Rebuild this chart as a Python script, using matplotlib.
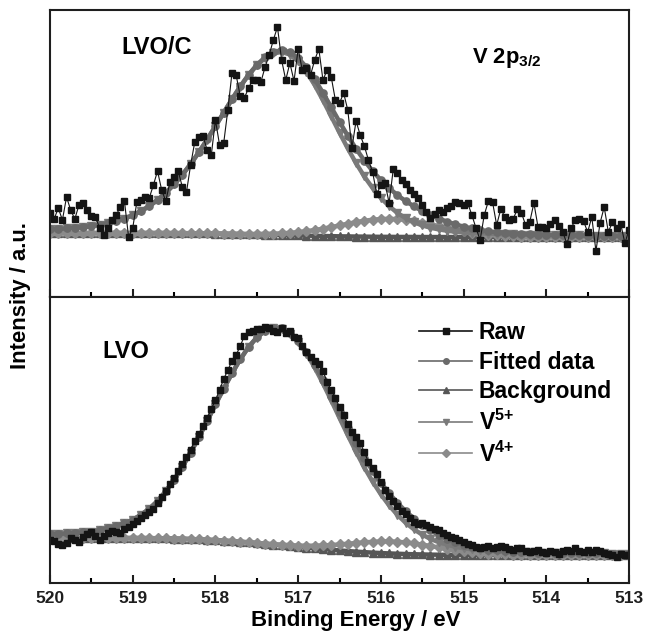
import numpy as np
import matplotlib.pyplot as plt
import matplotlib.ticker as ticker
from matplotlib.lines import Line2D

plt.rcParams['font.family'] = ['Liberation Sans', 'DejaVu Sans']
plt.rcParams['font.weight'] = 'bold'
plt.rcParams['mathtext.fontset'] = 'custom'
plt.rcParams['mathtext.rm'] = 'Liberation Sans:bold'
plt.rcParams['mathtext.it'] = 'Liberation Sans:bold'
plt.rcParams['mathtext.bf'] = 'Liberation Sans:bold'

# binding energy grids (eV): raw scan step 0.05, fit curves step 0.1
energy_raw = np.linspace(520, 513, 141)
energy_fit = np.linspace(520, 513, 71)

# ---- LVO/C ----
raw_lvoc = [27, 21, 32, 20, 43, 30, 21, 35, 37, 30,
            24, 23, 12, 5, 12, 20, 25, 33, 39, 3,
            12, 38, 40, 43, 42, 55, 69, 50, 39, 58,
            63, 69, 53, 48, 75, 98, 103, 104, 90, 85,
            120, 95, 97, 130, 167, 165, 144, 142, 152, 160,
            160, 158, 173, 185, 200, 213, 180, 160, 177, 159,
            191, 170, 172, 165, 180, 191, 160, 170, 163, 140,
            137, 147, 130, 92, 119, 105, 94, 80, 68, 46,
            55, 57, 37, 71, 67, 60, 56, 50, 46, 42,
            35, 28, 22, 26, 30, 28, 32, 34, 38, 37,
            35, 37, 25, 12, 0, 25, 39, 38, 15, 31,
            23, 20, 21, 31, 27, 15, 18, 37, 13, 13,
            12, 16, 20, 14, 8, -4, 12, 20, 21, 19,
            8, 23, -11, 17, 33, 8, 18, 12, 16, -3,
            10]
fit_lvoc = [10.8, 11.2, 11.6, 12.2, 12.9, 13.9, 15.2, 16.8, 18.8, 21.5,
            24.8, 28.9, 33.9, 40.0, 47.2, 55.6, 65.2, 76.0, 87.8, 100.6,
            113.9, 127.4, 140.8, 153.6, 165.2, 175.1, 182.8, 187.8, 189.7, 187.9,
            182.1, 172.8, 160.8, 147.2, 132.8, 118.2, 104.3, 91.3, 79.5, 69.0,
            59.9, 51.9, 44.9, 38.9, 33.7, 29.0, 25.0, 21.5, 18.4, 15.7,
            13.4, 11.6, 10.0, 8.7, 7.8, 7.0, 6.4, 6.0, 5.6, 5.4,
            5.1, 5.0, 4.8, 4.7, 4.6, 4.5, 4.5, 4.4, 4.3, 4.3,
            4.2]
bg_lvoc = [7.0] * 15 + [6.9, 6.9, 6.8, 6.7, 6.6, 6.5, 6.3, 6.2, 6.0, 5.8,
                        5.6, 5.4, 5.2, 5.0, 4.8, 4.6, 4.4, 4.2, 4.0, 3.9,
                        3.7, 3.6, 3.5, 3.4, 3.3, 3.2, 3.2, 3.1, 3.1, 3.1] + [3.0] * 26
v5_lvoc = [10.8, 11.2, 11.6, 12.2, 12.9, 13.9, 15.2, 16.8, 18.8, 21.5,
           24.8, 28.9, 33.9, 40.0, 47.2, 55.6, 65.2, 76.0, 87.8, 100.5,
           113.8, 127.3, 140.7, 153.4, 164.9, 174.6, 182.0, 186.6, 188.0, 185.5,
           178.8, 168.3, 155.0, 139.8, 123.7, 107.3, 91.6, 76.9, 63.6, 52.0,
           42.1, 33.9, 27.1, 21.9, 17.8, 14.6, 12.3, 10.6, 9.3, 8.3,
           7.6, 7.1, 6.7, 6.3, 6.1, 5.8, 5.6, 5.5, 5.3, 5.2,
           5.0, 4.9, 4.8, 4.7, 4.6, 4.5, 4.5, 4.4, 4.3, 4.3,
           4.2]
v4_lvoc = [7.0] * 15 + [6.9, 6.9, 6.8, 6.7, 6.7, 6.6, 6.4, 6.3, 6.2, 6.1,
                        6.1, 6.2, 6.4, 6.7, 7.2, 7.9, 8.9, 10.0, 11.4, 13.0,
                        14.6, 16.3, 17.9, 19.3, 20.3, 21.0, 21.2, 20.9, 20.1, 19.0,
                        17.4, 15.7, 13.9, 12.1, 10.4, 8.8, 7.5, 6.3, 5.4, 4.7,
                        4.2, 3.8, 3.5, 3.3, 3.2, 3.1, 3.1] + [3.0] * 9

# ---- LVO ----
raw_lvo = [20, 19, 16, 15, 17, 22, 20, 18, 23, 26,
           28, 24, 20, 24, 27, 29, 28, 27, 31, 33,
           36, 39, 42, 45, 48, 51, 57, 63, 69, 76,
           82, 89, 96, 103, 110, 119, 126, 134, 142, 151,
           160, 170, 181, 190, 199, 205, 214, 224, 228, 229,
           231, 231, 233, 232, 229, 228, 232, 227, 229, 223,
           222, 214, 208, 203, 199, 196, 189, 178, 170, 162,
           153, 145, 136, 128, 123, 117, 108, 98, 92, 86,
           78, 70, 64, 59, 54, 49, 46, 42, 38, 36,
           37, 35, 33, 31, 30, 27, 25, 23, 22, 20,
           18, 16, 15, 13, 12, 13, 14, 12, 13, 14,
           13, 11, 10, 12, 12, 9, 8, 9, 10, 8,
           7, 9, 8, 6, 9, 10, 9, 12, 9, 8,
           10, 8, 10, 9, 7, 6, 5, 3, 6, 5,
           5]
fit_lvo = [25.6, 26.1, 26.6, 27.0, 27.7, 28.5, 30.0, 31.8, 34.0, 36.8,
           40.2, 45.2, 51.2, 59.0, 68.8, 80.2, 93.2, 107.4, 122.8, 139.0,
           155.6, 171.4, 186.7, 200.7, 212.9, 222.6, 229.3, 232.4, 231.9, 227.4,
           219.4, 208.4, 195.2, 180.2, 164.3, 148.1, 132.1, 116.8, 102.4, 89.2,
           77.3, 66.6, 57.2, 48.8, 41.5, 35.2, 29.7, 25.1, 21.3, 18.0,
           15.3, 13.4, 11.8, 10.5, 9.7, 9.0, 8.5, 8.0, 7.7, 7.4,
           7.3, 7.2, 7.1, 6.9, 6.8, 6.8, 6.7, 6.6, 6.5, 6.4,
           6.4]
bg_lvo = [22.0] * 12 + [21.9, 21.8, 21.7, 21.5, 21.3, 21.0, 20.7, 20.3, 19.9, 19.4,
                        18.9, 18.3, 17.7, 17.0, 16.3, 15.5, 14.8, 14.0, 13.2, 12.4,
                        11.7, 11.0, 10.3, 9.6, 9.0, 8.4, 7.9, 7.4, 7.0, 6.6,
                        6.3, 6.0, 5.8, 5.6, 5.4, 5.3, 5.2, 5.1] + [5.0] * 21
v5_lvo = [25.6, 26.1, 26.6, 27.0, 27.7, 28.5, 30.0, 31.8, 34.0, 36.8,
          40.2, 45.2, 51.2, 59.0, 68.8, 80.2, 93.2, 107.4, 122.8, 139.0,
          155.6, 171.4, 186.7, 200.7, 212.9, 222.5, 229.1, 232.0, 231.3, 226.5,
          218.1, 206.5, 192.5, 176.6, 159.6, 142.1, 124.8, 108.2, 92.6, 78.4,
          65.7, 54.6, 45.2, 37.2, 30.7, 25.4, 21.1, 17.8, 15.3, 13.3,
          11.7, 10.7, 9.9, 9.2, 8.8, 8.4, 8.1, 7.8, 7.6, 7.4,
          7.3, 7.2, 7.1, 6.9, 6.8, 6.8, 6.7, 6.6, 6.5, 6.4,
          6.4]
v4_lvo = [22.0] * 12 + [21.9, 21.8, 21.7, 21.5, 21.3, 21.0, 20.7, 20.3, 19.9, 19.4,
                        18.9, 18.3, 17.7, 17.1, 16.5, 15.9, 15.4, 14.9, 14.5, 14.3,
                        14.4, 14.6, 15.0, 15.6, 16.3, 17.0, 17.7, 18.2, 18.6, 18.6,
                        18.3, 17.6, 16.6, 15.4, 14.0, 12.6, 11.2, 9.8, 8.6, 7.7,
                        6.9, 6.3, 5.9, 5.6, 5.4, 5.2, 5.1] + [5.0] * 12

labels = ['Raw', 'Fitted data', 'Background', 'V$^{5{+}}$', 'V$^{4{+}}$']
colors = ['#141414', '#6a6a6a', '#565656', '#7a7a7a', '#8b8b8b']
markers = ['s', 'o', '^', 'v', 'D']


def draw_panel(ax, raw, fit, bg, v5, v4):
    comps = [(bg, 2), (v4, 4), (v5, 3), (fit, 1)]
    for vals, i in comps:
        ax.plot(energy_fit, vals, color=colors[i], lw=3.2, marker=markers[i],
                ms=4.6 if markers[i] == 'D' else 5.2, mec=colors[i], mfc=colors[i],
                solid_capstyle='round')
    ax.plot(energy_raw, raw, color=colors[0], lw=0.8, marker='s', ms=4.2,
            mec=colors[0], mfc=colors[0])
    ax.set_yticks([])
    for s in ax.spines.values():
        s.set_linewidth(1.5)
        s.set_color('#1e1e1e')


fig = plt.figure(figsize=(6.46, 6.34), dpi=100)
ax_top = fig.add_axes([0.0774, 0.5315, 0.8963, 0.4527])
ax_bot = fig.add_axes([0.0774, 0.0804, 0.8963, 0.4511], sharex=ax_top)

draw_panel(ax_top, raw_lvoc, fit_lvoc, bg_lvoc, v5_lvoc, v4_lvoc)
draw_panel(ax_bot, raw_lvo, fit_lvo, bg_lvo, v5_lvo, v4_lvo)

ax_top.set_ylim(-57, 230)
ax_bot.set_ylim(-23, 263)
ax_bot.set_xlim(520, 513)
ax_bot.xaxis.set_major_locator(ticker.MultipleLocator(1))
ax_bot.xaxis.set_minor_locator(ticker.MultipleLocator(0.5))
ax_bot.xaxis.set_major_formatter(ticker.FuncFormatter(lambda v, _: f'{int(round(v))}'))

for ax in (ax_top, ax_bot):
    ax.tick_params(axis='x', which='major', direction='in', length=6, width=1.5,
                   bottom=True, top=False, labelsize=12.5, pad=6, colors='#1e1e1e')
    ax.tick_params(axis='x', which='minor', direction='in', length=3.5, width=1.5,
                   bottom=True, top=False)
ax_top.tick_params(axis='x', labelbottom=False)

ax_bot.set_xlabel('Binding Energy / eV', fontsize=16, fontweight='bold', labelpad=2)
ax_bot.xaxis.set_label_coords(0.528, -0.095)
fig.text(0.031, 0.534, 'Intensity / a.u.', rotation=90, ha='center', va='center',
         fontsize=15.8, fontweight='bold')

ax_top.text(0.124, 0.868, 'LVO/C', transform=ax_top.transAxes, fontsize=17,
            fontweight='bold', ha='left', va='center')
ax_top.text(0.729, 0.832, 'V 2p$_{3/2}$', transform=ax_top.transAxes, fontsize=15.8,
            fontweight='bold', ha='left', va='center')
ax_bot.text(0.09, 0.808, 'LVO', transform=ax_bot.transAxes, fontsize=17,
            fontweight='bold', ha='left', va='center')

handles = [Line2D([], [], color=c, marker=m, ms=4, lw=1.2, mec=c, mfc=c)
           for c, m in zip(colors, markers)]
ax_bot.legend(handles, labels, loc='upper left', bbox_to_anchor=(0.638, 0.915),
              frameon=False, fontsize=16.5, handlelength=2.3, handletextpad=0.3,
              borderpad=0, borderaxespad=0, labelspacing=0.28)

fig.savefig('out.png', dpi=100)
